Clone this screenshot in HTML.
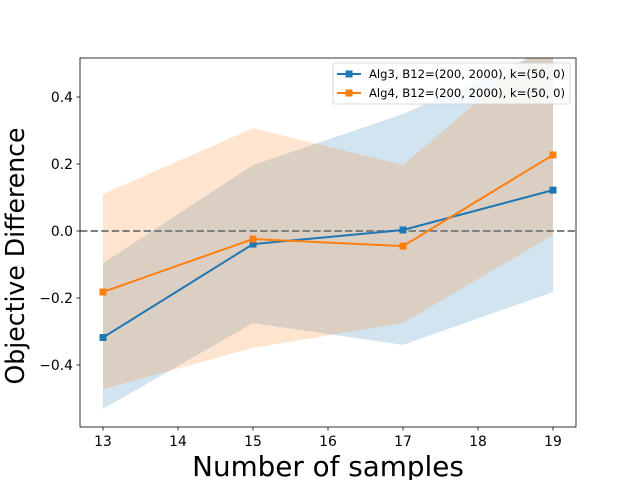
<!DOCTYPE html>
<html><head><meta charset="utf-8"><style>body{margin:0;background:#fff}svg{display:block}text{font-family:"DejaVu Sans","Liberation Sans",sans-serif}</style></head>
<body>
<svg id="chart" width="640" height="480"></svg>
<script>
const xs = [13, 15, 17, 19];
const alg3 = [-0.318, -0.039, 0.003, 0.122];
const alg3Upper = [-0.096, 0.197, 0.349, 0.55];
const alg3Lower = [-0.531, -0.275, -0.340, -0.182];
const alg4 = [-0.182, -0.024, -0.045, 0.227];
const alg4Upper = [0.110, 0.307, 0.197, 0.58];
const alg4Lower = [-0.472, -0.349, -0.275, -0.012];
const xTicks = [13, 14, 15, 16, 17, 18, 19];
const yTicks = [-0.4, -0.2, 0.0, 0.2, 0.4];

const L=80,R=576,T=58,B=427;
const sx=v=>103+(v-13)*75;
const sy=v=>231-v*335;
const svg=document.getElementById('chart');
const NS='http://www.w3.org/2000/svg';
function mk(t,a,p){const e=document.createElementNS(NS,t);for(const k in a)e.setAttribute(k,a[k]);(p||svg).appendChild(e);return e;}
const defs=mk('defs',{});const cp=mk('clipPath',{id:'c'},defs);mk('rect',{x:L,y:T,width:R-L,height:B-T},cp);
const g=mk('g',{'clip-path':'url(#c)'});
function band(u,l,col,name){
 let d='M'+xs.map((x,i)=>sx(x)+','+sy(u[i])).join('L')+'L'+xs.slice().reverse().map((x,j)=>{const i=xs.length-1-j;return sx(x)+','+sy(l[i]);}).join('L')+'Z';
 const p=mk('path',{d:d,fill:col,'fill-opacity':0.2,stroke:'none'},g);
 
 
}
band(alg3Upper,alg3Lower,'#1f77b4','alg3-band');
band(alg4Upper,alg4Lower,'#ff7f0e','alg4-band');
const zl=mk('line',{x1:L,x2:R,y1:sy(0),y2:sy(0),stroke:'#808080','stroke-width':2,'stroke-dasharray':'7.4,3.2'},g);


function series(v,col,name){
 const pl=mk('polyline',{points:xs.map((x,i)=>sx(x)+','+sy(v[i])).join(' '),fill:'none',stroke:col,'stroke-width':2},g);
 
 
 xs.forEach((x,i)=>{const r=mk('rect',{x:sx(x)-3.5,y:sy(v[i])-3.5,width:7,height:7,fill:col},g);
  
  });
}
series(alg3,'#1f77b4','alg3');
series(alg4,'#ff7f0e','alg4');
const frame=mk('rect',{x:L,y:T,width:R-L,height:B-T,fill:'none',stroke:'#000','stroke-width':0.8});


xTicks.forEach(t=>{mk('line',{x1:sx(t),x2:sx(t),y1:B,y2:B+3.5,stroke:'#000','stroke-width':0.8});
 const tx=mk('text',{x:sx(t),y:B+19,'font-size':13.9,'text-anchor':'middle'});tx.textContent=t;
 
 });
yTicks.forEach(t=>{mk('line',{x1:L-3.5,x2:L,y1:sy(t),y2:sy(t),stroke:'#000','stroke-width':0.8});
 const tx=mk('text',{x:L-7,y:sy(t)+5,'font-size':13.9,'text-anchor':'end'});tx.textContent=(t<0?'\u2212':'')+Math.abs(t).toFixed(1);
 
 });
const xt=mk('text',{x:328,y:476,'font-size':27.8,'text-anchor':'middle'});xt.textContent='Number of samples';


const yt=mk('text',{x:0,y:0,'font-size':26,'text-anchor':'middle',textLength:257,lengthAdjust:'spacingAndGlyphs',transform:'translate(24,256) rotate(-90)'});yt.textContent='Objective Difference';


const lg=mk('g',{});


mk('rect',{x:333,y:63,width:237,height:41,rx:2,fill:'#fff','fill-opacity':0.8,stroke:'#ccc','stroke-width':0.8},lg);
[['Alg3, B12=(200, 2000), k=(50, 0)','#1f77b4',74],['Alg4, B12=(200, 2000), k=(50, 0)','#ff7f0e',93]].forEach(([s,c,y])=>{
 mk('line',{x1:337,x2:361,y1:y,y2:y,stroke:c,'stroke-width':2},lg);
 mk('rect',{x:345.5,y:y-3.5,width:7,height:7,fill:c},lg);
 const t=mk('text',{x:369,y:y+4,'font-size':11.6,textLength:196,lengthAdjust:'spacingAndGlyphs'},lg);t.textContent=s;
 
 
});
</script>
</body></html>
